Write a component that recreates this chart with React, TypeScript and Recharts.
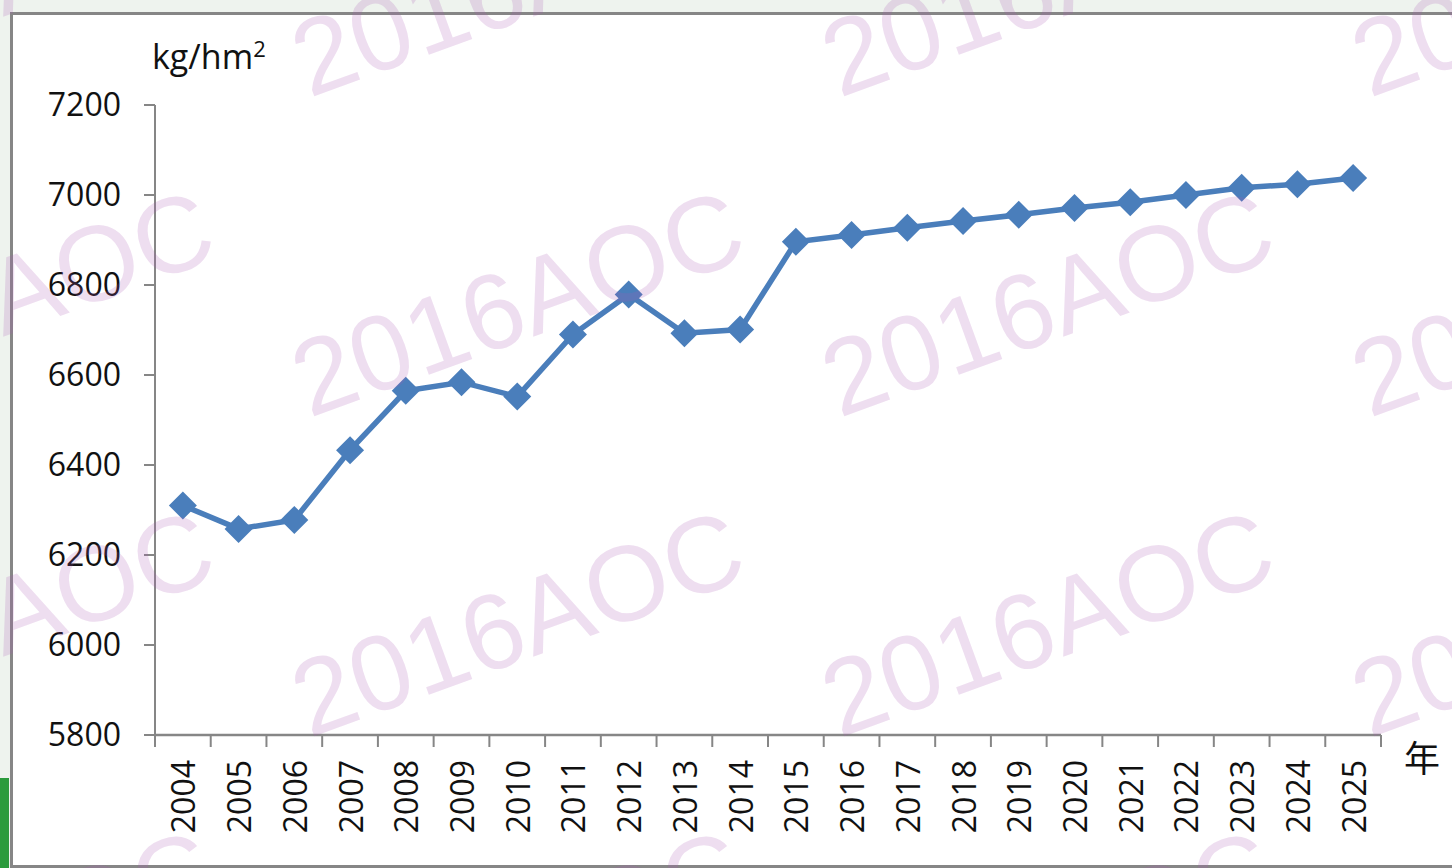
import { Line, LineChart, XAxis, YAxis } from 'recharts';

const years = ['2004', '2005', '2006', '2007', '2008', '2009', '2010', '2011', '2012', '2013', '2014',
    '2015', '2016', '2017', '2018', '2019', '2020', '2021', '2022', '2023', '2024', '2025'];
const yields = [6310, 6258, 6278, 6433, 6565, 6584, 6552, 6690, 6779, 6693, 6701,
    6896, 6911, 6927, 6942, 6956, 6971, 6984, 7000, 7016, 7024, 7038];
const yTicks = [5800, 6000, 6200, 6400, 6600, 6800, 7000, 7200];
const unitLabel = 'kg/hm';
const xUnit = '年';
const watermark = '2016AOC';

// category i sits in the middle of slot [i, i+1] so the tick marks fall between years
const data = years.map((year, i) => ({ pos: i + 0.5, year, yield: yields[i] }));
const boundaries = years.map((_, i) => i).concat(years.length);

const LINE = '#4a7ebb';
const AXIS = '#868686';
const FONT = '"Open Sans", "Liberation Sans", sans-serif';

const Diamond = (props: any) => {
    const { cx, cy, index } = props;
    const r = 14;
    return <path key={index} d={`M${cx},${cy - r}L${cx + r},${cy}L${cx},${cy + r}L${cx - r},${cy}Z`} fill={LINE} />;
};

const YearTick = (props: any) => {
    const { x, y, payload, width } = props;
    const i = payload.value;
    if (i >= years.length) return <g />;
    const half = (typeof width === 'number' && width > 0 ? width : 1225) / years.length / 2;
    const tx = x + half;
    return (
        <text x={tx} y={y} transform={`rotate(-90, ${tx}, ${y})`} textAnchor="end" dominantBaseline="central"
            fontSize={32} fontFamily={FONT} fill="#111">
            {years[i]}
        </text>
    );
};

const App = () => {
    // watermark grid, just layout
    const marks: { left: number; top: number }[] = [];
    for (let col = 0; col < 4; col++) {
        for (let row = -1; row < 3; row++) {
            marks.push({ left: -220 + 530 * col, top: 420 + 320 * row });
        }
    }

    return (
        <div style={{ position: 'relative', width: 1452, height: 868, overflow: 'hidden', background: '#eef3ee' }}>
            <style>{'body{margin:0}'}</style>
            <div style={{ position: 'absolute', left: 0, top: 778, width: 9, height: 90, background: '#2b9b3c' }} />
            <div style={{ position: 'absolute', left: 10, top: 12, width: 1460, height: 850, background: '#fff', border: `3px solid ${AXIS}` }} />
            <div style={{ position: 'absolute', left: 0, top: 0 }}>
                <LineChart width={1452} height={868} data={data} margin={{ top: 105, right: 71, bottom: 0, left: 0 }}>
                    <XAxis dataKey="pos" type="number" domain={[0, years.length]} ticks={boundaries} interval={0}
                        height={133} tickSize={12} tickMargin={13} tick={<YearTick />}
                        axisLine={{ stroke: AXIS, strokeWidth: 2.5 }} tickLine={{ stroke: AXIS, strokeWidth: 2 }} />
                    <YAxis domain={[5800, 7200]} ticks={yTicks} width={155} tickSize={11} tickMargin={23}
                        axisLine={{ stroke: AXIS, strokeWidth: 2 }} tickLine={{ stroke: AXIS, strokeWidth: 2 }}
                        tick={{ fontSize: 32, fontFamily: FONT, fill: '#111' }} />
                    <Line dataKey="yield" stroke={LINE} strokeWidth={5.5} dot={<Diamond />} activeDot={false}
                        isAnimationActive={false} />
                </LineChart>
            </div>
            <div style={{ position: 'absolute', left: 152, top: 33, fontFamily: FONT, fontSize: 34, color: '#111', whiteSpace: 'nowrap' }}>
                {unitLabel}<span style={{ fontSize: 22, verticalAlign: '0.55em' }}>2</span>
            </div>
            <div style={{ position: 'absolute', left: 1404, top: 730, fontFamily: '"Noto Sans CJK SC", sans-serif', fontSize: 36, color: '#111' }}>
                {xUnit}
            </div>
            {marks.map((m, i) => (
                <div key={i} style={{
                    position: 'absolute', left: m.left, top: m.top - 92, fontFamily: '"Liberation Sans", Arial, sans-serif',
                    fontSize: 107, lineHeight: '107px', color: 'rgba(170, 90, 180, 0.2)', whiteSpace: 'nowrap',
                    transform: 'rotate(-20deg)', transformOrigin: '0 92px', pointerEvents: 'none',
                }}>
                    {watermark}
                </div>
            ))}
        </div>
    );
};

export default App;
